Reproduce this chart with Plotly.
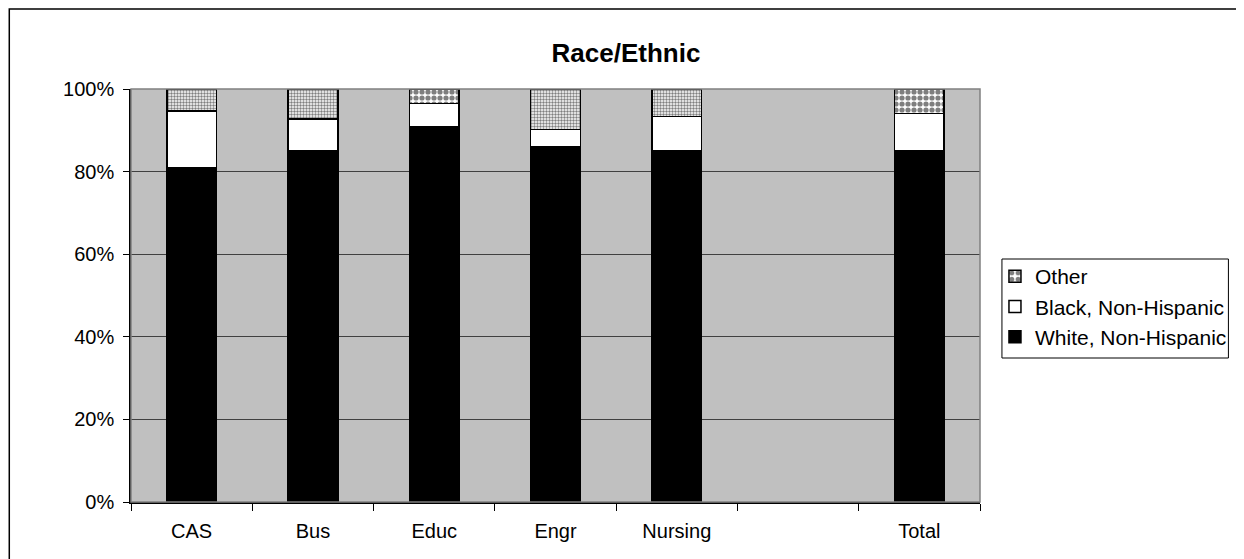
import plotly.graph_objects as go

categories = ["CAS", "Bus", "Educ", "Engr", "Nursing", " ", "Total"]
white_nh = [81.0, 85.0, 90.8, 86.0, 85.1, None, 85.0]
black_nh = [13.7, 7.7, 5.7, 4.2, 8.2, None, 9.1]
other = [5.3, 7.3, 3.5, 9.8, 6.7, None, 5.9]
ytick_vals = [0, 20, 40, 60, 80, 100]
ytick_text = ["0%", "20%", "40%", "60%", "80%", "100%"]

FONT = "Liberation Sans, Arial, sans-serif"
W, H = 1236, 551          # page has an 8px body margin
L, R, T, B = 123, 262, 81, 57
PW, PH = W - L - R, H - T - B


def px(fx):
    return (fx - L) / PW


def py(fy):
    return (H - B - fy) / PH


fig = go.Figure()
fig.add_trace(go.Bar(
    x=categories, y=white_nh, name="White, Non-Hispanic",
    marker=dict(color="#000000", line=dict(color="#000000", width=1.5)),
))
fig.add_trace(go.Bar(
    x=categories, y=black_nh, name="Black, Non-Hispanic",
    marker=dict(color="#FFFFFF", line=dict(color="#000000", width=1.5)),
))
fig.add_trace(go.Bar(
    x=categories, y=other, name="Other",
    marker=dict(
        color="#FFFFFF",
        line=dict(color="#000000", width=1.5),
        pattern=dict(shape=".", fgcolor="#000000", bgcolor="#FFFFFF",
                     size=[3, 3, 6, 3, 3, 3, 6], solidity=[0.5, 0.5, 0.6, 0.5, 0.5, 0.5, 0.6],
                     fillmode="overlay"),
    ),
))

# chart area border
fig.add_shape(type="rect", xref="paper", yref="paper",
              x0=px(1), x1=px(1235), y0=py(580), y1=py(1),
              line=dict(color="#000000", width=1.5), layer="below")
# legend box
fig.add_shape(type="rect", xref="paper", yref="paper",
              x0=px(996), x1=px(1223), y0=py(350), y1=py(251),
              line=dict(color="#000000", width=1), fillcolor="#FFFFFF", layer="below")
# plot area border
fig.add_shape(type="rect", xref="paper", yref="paper", x0=0, x1=1, y0=0, y1=1,
              line=dict(color="#808080", width=1.5), layer="above")

fig.update_layout(
    width=W, height=H,
    margin=dict(l=L, r=R, t=T, b=B),
    barmode="stack", bargap=0.59,
    paper_bgcolor="#FFFFFF", plot_bgcolor="#C0C0C0",
    font=dict(family=FONT, size=20, color="#000000"),
    title=dict(text="<b>Race/Ethnic</b>", x=0.5, xref="container", xanchor="center",
               y=1 - 45 / H, yref="container", yanchor="middle",
               font=dict(family=FONT, size=26, color="#000000")),
    legend=dict(x=px(989), xanchor="left", y=py(248), yanchor="top",
                traceorder="reversed", borderwidth=0,
                bgcolor="rgba(0,0,0,0)", font=dict(family=FONT, size=21),
                itemwidth=30, tracegroupgap=0),
    showlegend=True,
)
fig.update_xaxes(type="category", categoryorder="array", categoryarray=categories,
                 tickson="boundaries", ticks="outside", ticklen=7, tickcolor="#000000",
                 showline=True, linecolor="#000000", linewidth=1.5, showgrid=False,
                 ticklabelstandoff=10,
                 tickfont=dict(family=FONT, size=20))
fig.update_yaxes(range=[0, 100], tickvals=ytick_vals, ticktext=ytick_text,
                 ticks="outside", ticklen=6, tickcolor="#000000",
                 showline=True, linecolor="#000000", linewidth=1.5,
                 showgrid=True, gridcolor="#404040", gridwidth=1, zeroline=False,
                 ticklabelstandoff=5,
                 tickfont=dict(family=FONT, size=20))

fig.write_html("out.html")
